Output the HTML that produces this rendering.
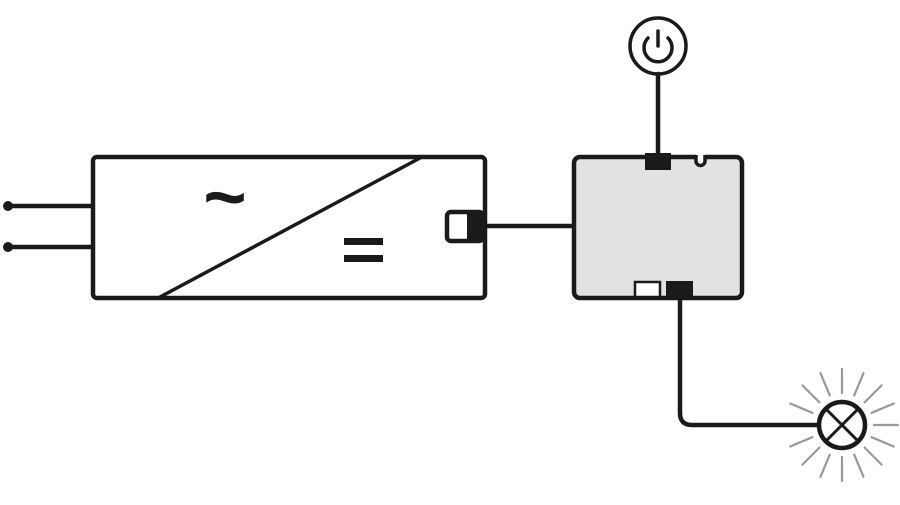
<!DOCTYPE html>
<html><head><style>html,body{margin:0;padding:0;background:#fff}</style></head>
<body>
<svg width="900" height="500" viewBox="0 0 900 500" xmlns="http://www.w3.org/2000/svg">
<g stroke="#1a1a1a" stroke-width="4.5" fill="none" stroke-linecap="round" stroke-linejoin="round">
  <line x1="8" y1="206" x2="92" y2="206"/>
  <line x1="8" y1="247" x2="92" y2="247"/>
  <rect x="93" y="157" width="392" height="141" rx="4" fill="#fff"/>
  <line x1="160" y1="297" x2="420" y2="158" stroke-width="3.5"/>
  <rect x="447" y="212" width="36" height="29" rx="4" fill="#fff"/>
  <line x1="485" y1="226" x2="573" y2="226"/>
  <rect x="574" y="157" width="168" height="141" rx="6" fill="#e1e2e3"/>
  <circle cx="658" cy="46" r="28" fill="#fff" stroke-width="3.5"/>
  <path d="M648 38 A14 14 0 1 0 668 38" stroke-width="3.5"/>
  <line x1="658" y1="31" x2="658" y2="46" stroke-width="3.5"/>
  <line x1="658" y1="74" x2="658" y2="156"/>
  <path d="M680 298 V413 Q680 425 692 425 H818"/>
  <circle cx="842" cy="425" r="23" fill="#fff"/>
  <line x1="826" y1="409" x2="858" y2="441" stroke-width="3"/>
  <line x1="858" y1="409" x2="826" y2="441" stroke-width="3"/>
</g>
<rect x="696" y="154" width="9" height="6" fill="#fff"/>
<path d="M696 155 V161 A4.5 4.5 0 0 0 705 161 V155" fill="#fff" stroke="#1a1a1a" stroke-width="3.5"/>
<rect x="467" y="211" width="20" height="31" fill="#1a1a1a"/>
<rect x="645" y="153" width="26" height="17" fill="#1a1a1a"/>
<rect x="635" y="282" width="25" height="15" fill="#fff" stroke="#1a1a1a" stroke-width="2.5"/>
<rect x="666" y="281" width="27" height="19" fill="#1a1a1a"/>
<text x="225" y="222" font-family="Liberation Sans, sans-serif" font-size="74" font-weight="bold" text-anchor="middle" fill="#1a1a1a">~</text>
<rect x="344" y="238" width="39" height="7" fill="#1a1a1a"/>
<rect x="344" y="255" width="39" height="7" fill="#1a1a1a"/>
<circle cx="8" cy="206" r="5" fill="#1a1a1a"/>
<circle cx="8" cy="247" r="5" fill="#1a1a1a"/>
<g stroke="#999" stroke-width="2.2" stroke-linecap="round">
  <line x1="874" y1="425" x2="898" y2="425"/>
  <line x1="871.6" y1="412.8" x2="893.8" y2="403.5"/>
  <line x1="864.6" y1="402.4" x2="881.6" y2="385.4"/>
  <line x1="854.2" y1="395.4" x2="863.5" y2="373.2"/>
  <line x1="842" y1="393" x2="842" y2="369"/>
  <line x1="829.8" y1="395.4" x2="820.5" y2="373.2"/>
  <line x1="819.4" y1="402.4" x2="802.4" y2="385.4"/>
  <line x1="812.4" y1="412.8" x2="790.2" y2="403.5"/>
  <line x1="812.4" y1="437.2" x2="790.2" y2="446.5"/>
  <line x1="819.4" y1="447.6" x2="802.4" y2="464.6"/>
  <line x1="829.8" y1="454.6" x2="820.5" y2="476.8"/>
  <line x1="842" y1="457" x2="842" y2="481"/>
  <line x1="854.2" y1="454.6" x2="863.5" y2="476.8"/>
  <line x1="864.6" y1="447.6" x2="881.6" y2="464.6"/>
  <line x1="871.6" y1="437.2" x2="893.8" y2="446.5"/>
</g>
</svg>
</body></html>
